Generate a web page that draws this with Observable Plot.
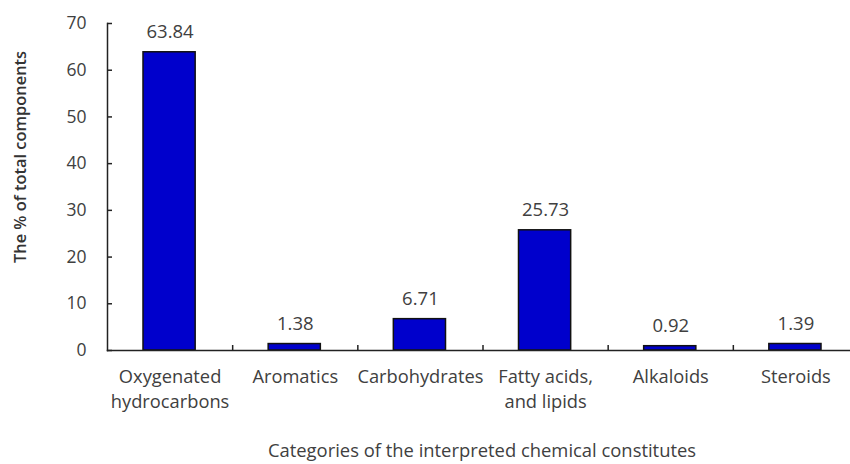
<!DOCTYPE html>
<html><head><meta charset="utf-8">
<script src="https://cdn.jsdelivr.net/npm/d3@7"></script>
<script src="https://cdn.jsdelivr.net/npm/@observablehq/plot@0.6"></script>
<style>body{margin:0;background:#fff;} svg{display:block;}</style>
</head><body><div id="chart"></div>
<script>
const categories = ["Oxygenated\nhydrocarbons", "Aromatics", "Carbohydrates", "Fatty acids,\nand lipids", "Alkaloids", "Steroids"];
const values = [63.84, 1.38, 6.71, 25.73, 0.92, 1.39];
const valueLabels = ["63.84", "1.38", "6.71", "25.73", "0.92", "1.39"];
const yTicks = [0, 10, 20, 30, 40, 50, 60, 70];
const yTitle = "The % of total components";
const xTitle = "Categories of the interpreted chemical constitutes";

const data = categories.map((c, i) => ({i, c, v: values[i], label: valueLabels[i]}));
const font = "'Open Sans', Lato, sans-serif";
const ink = "#404040";

const chart = Plot.plot({
  width: 850, height: 464,
  marginLeft: 107, marginRight: -8, marginTop: 23, marginBottom: 114,
  style: {fontFamily: font, fontSize: "17px", color: ink, background: "#fff", overflow: "hidden"},
  x: {domain: [0, categories.length], axis: null},
  y: {domain: [0, 70], axis: null},
  marks: [
    Plot.rectY(data, {x1: "i", x2: d => d.i + 1, y: "v", insetLeft: 36, insetRight: 37, fill: "#0000CC", stroke: "#111", strokeWidth: 1.5}),
    Plot.text(data, {x: d => d.i + 0.5, y: "v", text: "label", dy: -20, fill: ink, fontSize: 18.5}),
    Plot.axisY({ticks: yTicks, tickSize: -5, tickPadding: 26, stroke: "#222", strokeWidth: 1.5, fill: ink, fontSize: 17.5, label: null}),
    Plot.axisX({ticks: d3.range(1, categories.length + 1), tickSize: -5, tickFormat: () => "", stroke: "#222", strokeWidth: 1.5, label: null}),
    Plot.axisX({ticks: data.map(d => d.i + 0.5), tickSize: 0, tickPadding: 15, tickFormat: t => categories[Math.floor(t)], fill: ink, fontSize: 18.3, lineHeight: 1.35, label: null}),
    Plot.frame({anchor: "left", stroke: "#222", strokeWidth: 1.5}),
    Plot.frame({anchor: "bottom", stroke: "#222", strokeWidth: 1.5}),
    Plot.text([yTitle], {frameAnchor: "left", textAnchor: "middle", rotate: -90, dx: -87, dy: -30, fill: "#333", fontSize: 16.4, fontWeight: 600}),
    Plot.text([xTitle], {frameAnchor: "bottom", dy: 106, dx: -1, fill: ink, fontSize: 18.4})
  ]
});
document.getElementById("chart").append(chart);
</script></body></html>
